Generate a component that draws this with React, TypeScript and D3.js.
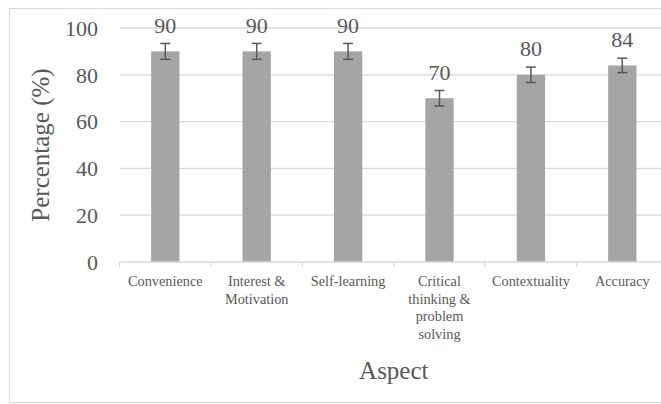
import React from "react";
import * as d3 from "d3";

const categories = [
  "Convenience",
  "Interest &\nMotivation",
  "Self-learning",
  "Critical\nthinking &\nproblem\nsolving",
  "Contextuality",
  "Accuracy",
];
const values = [90, 90, 90, 70, 80, 84];
const errors = [3.4, 3.4, 3.4, 3.3, 3.3, 3.1];
const yTicks = [0, 20, 40, 60, 80, 100];

const W = 661;
const H = 404;
const margin = { left: 119.6, right: 668, top: 28, bottom: 262 };
const FONT = "'Liberation Serif', 'Times New Roman', serif";
const TEXT = "#595959";
const GRID = "#d9d9d9";
const BAR = "#a5a5a5";

export default function App() {
  const x = d3
    .scaleBand<string>()
    .domain(categories)
    .range([margin.left, margin.right])
    .paddingInner(0)
    .paddingOuter(0);
  const y = d3.scaleLinear().domain([0, 100]).range([margin.bottom, margin.top]);
  const bw = x.bandwidth() * 0.31;
  const boundaries = d3.range(categories.length + 1).map((i) => margin.left + i * x.bandwidth());

  return (
    <svg
      width={W}
      height={H}
      style={{ position: "absolute", left: 0, top: 0, background: "#fff" }}
      fontFamily={FONT}
    >
      <rect x={9.5} y={8.5} width={W + 10} height={394} fill="#fff" stroke={GRID} strokeWidth={1} />
      {yTicks.map((t) => (
        <g key={t}>
          {t !== 0 && (
            <line x1={margin.left} x2={margin.right} y1={y(t)} y2={y(t)} stroke={GRID} strokeWidth={1.3} />
          )}
          <text x={98} y={y(t)} dy="0.35em" textAnchor="end" fontSize={22} fill={TEXT}>
            {t}
          </text>
        </g>
      ))}
      {categories.map((c, i) => {
        const cx = (x(c) as number) + x.bandwidth() / 2;
        const v = values[i];
        const e = errors[i];
        return (
          <g key={c}>
            <rect x={cx - bw / 2} y={y(v)} width={bw} height={y(0) - y(v)} fill={BAR} />
            <line x1={cx} x2={cx} y1={y(v + e)} y2={y(v - e)} stroke={TEXT} strokeWidth={1.5} />
            <line x1={cx - 5} x2={cx + 5} y1={y(v + e)} y2={y(v + e)} stroke={TEXT} strokeWidth={1.5} />
            <line x1={cx - 5} x2={cx + 5} y1={y(v - e)} y2={y(v - e)} stroke={TEXT} strokeWidth={1.5} />
            <text x={cx} y={y(v) - 18.5} textAnchor="middle" fontSize={22} fill={TEXT}>
              {v}
            </text>
            {c.split("\n").map((line, j) => (
              <text key={j} x={cx} y={286 + j * 17.6} textAnchor="middle" fontSize={14.3} fill={TEXT}>
                {line}
              </text>
            ))}
          </g>
        );
      })}
      <line x1={margin.left} x2={margin.right} y1={y(0)} y2={y(0)} stroke={GRID} strokeWidth={1.3} />
      {boundaries.map((bx, i) => (
        <line key={i} x1={bx} x2={bx} y1={y(0)} y2={y(0) + 5} stroke={GRID} strokeWidth={1.3} />
      ))}
      <text
        transform={`translate(40,${(margin.top + margin.bottom) / 2}) rotate(-90)`}
        textAnchor="middle"
        dy="0.35em"
        fontSize={25}
        fill={TEXT}
      >
        Percentage (%)
      </text>
      <text x={(margin.left + margin.right) / 2} y={379} textAnchor="middle" fontSize={25} fill={TEXT}>
        Aspect
      </text>
    </svg>
  );
}
